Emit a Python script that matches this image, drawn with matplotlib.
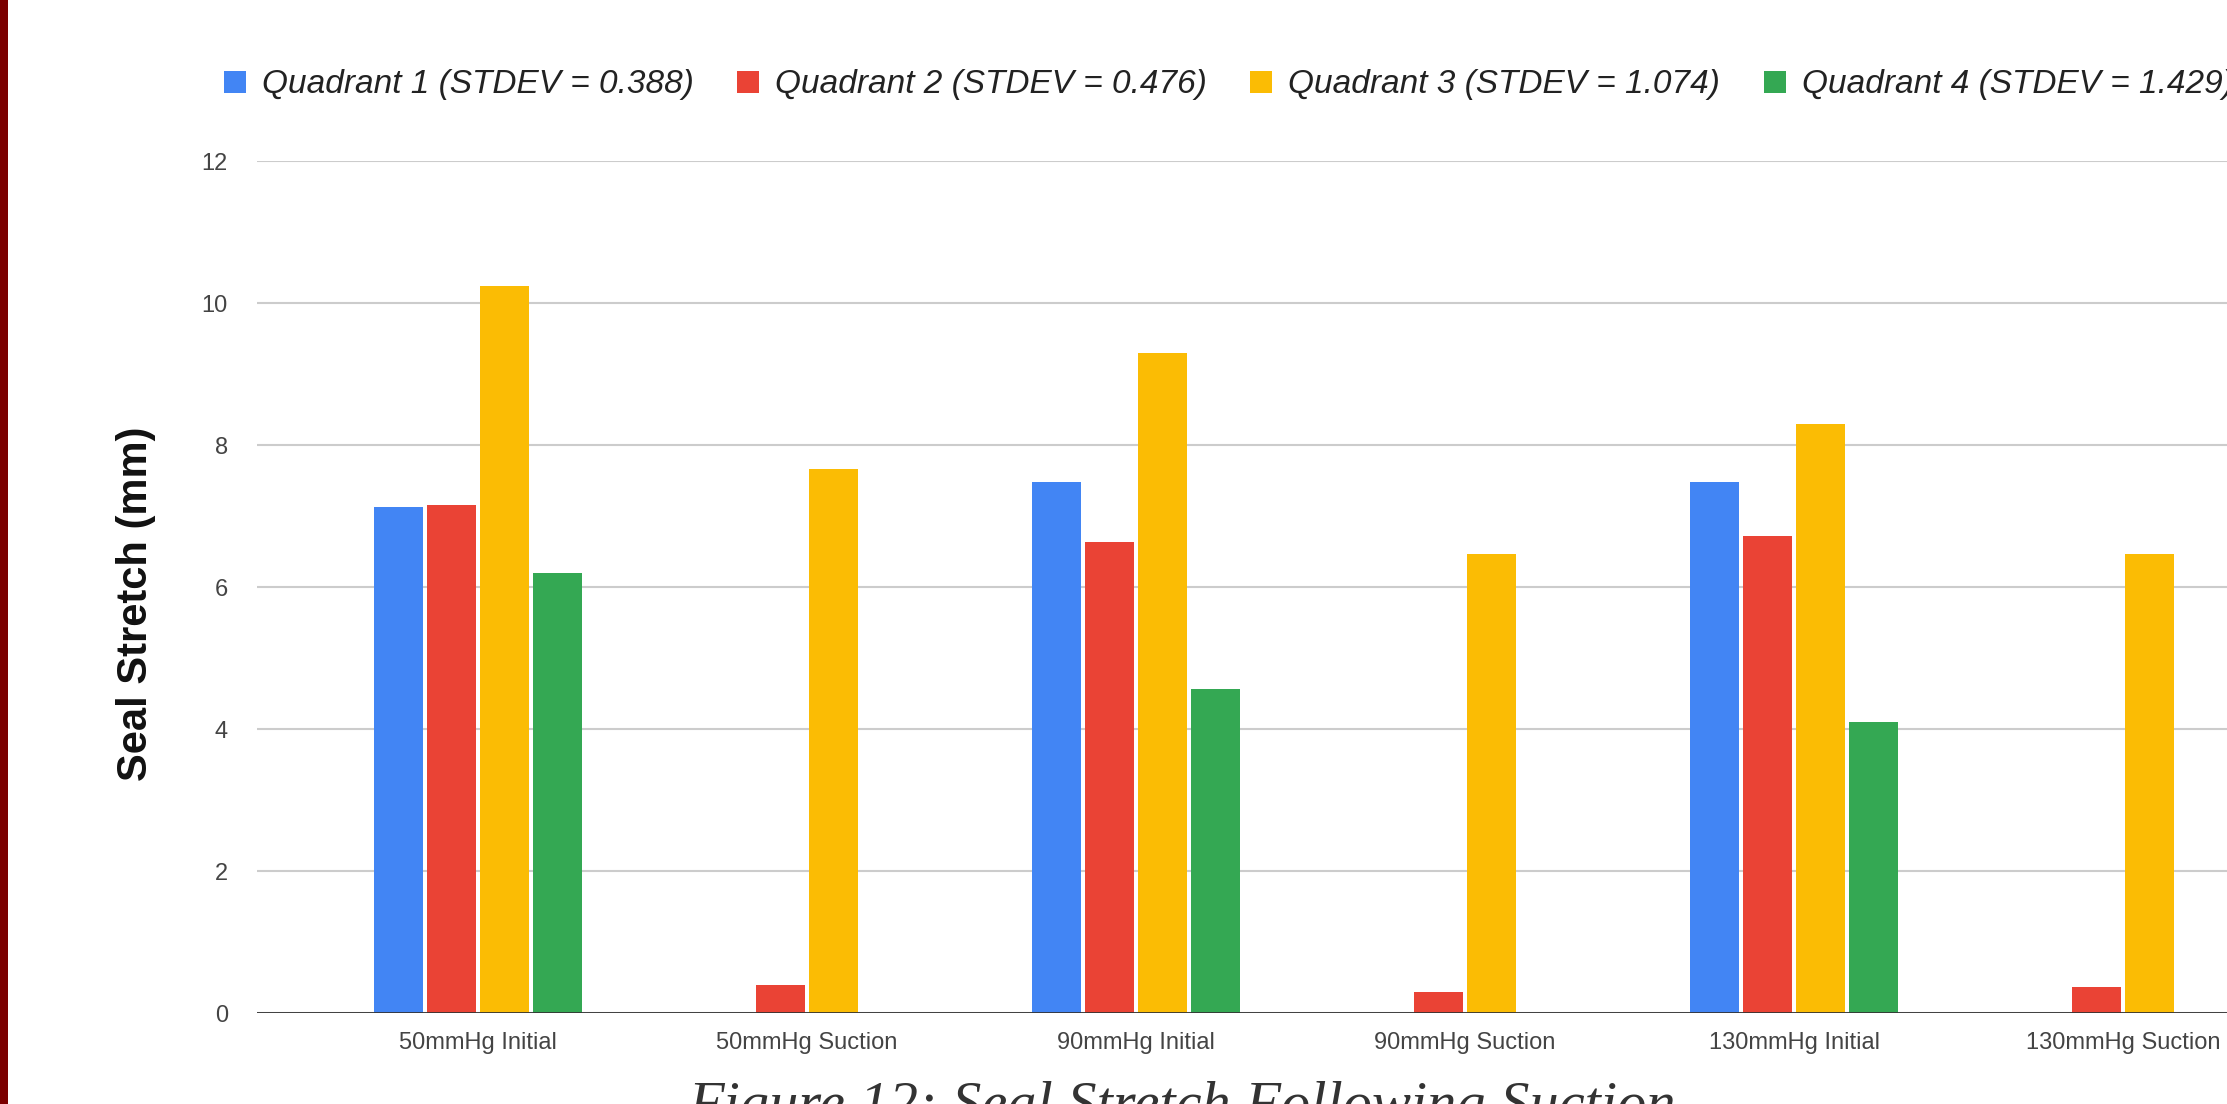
import numpy as np
import matplotlib
matplotlib.use("Agg")
import matplotlib.pyplot as plt
from matplotlib.patches import Rectangle, Patch

# Values
categories = ["50mmHg Initial", "50mmHg Suction", "90mmHg Initial",
              "90mmHg Suction", "130mmHg Initial", "130mmHg Suction"]
quadrant_1 = [7.12, 0, 7.48, 0, 7.48, 0]
quadrant_2 = [7.16, 0.40, 6.64, 0.30, 6.72, 0.36]
quadrant_3 = [10.24, 7.66, 9.30, 6.46, 8.30, 6.46]
quadrant_4 = [6.20, 0, 4.56, 0, 4.10, 0]
series_labels = ["Quadrant 1 (STDEV = 0.388)", "Quadrant 2 (STDEV = 0.476)",
                 "Quadrant 3 (STDEV = 1.074)", "Quadrant 4 (STDEV = 1.429)"]
colors = ["#4285F4", "#EA4335", "#FBBC04", "#34A853"]
y_ticks = [0, 2, 4, 6, 8, 10, 12]

plt.rcParams["font.family"] = ["Liberation Sans", "DejaVu Sans"]

W, H = 2227, 1104
fig = plt.figure(figsize=(W / 100, H / 100), dpi=100)
ax = fig.add_axes([257 / W, 91 / H, 1 - 257 / W, 852 / H])

x = np.arange(len(categories))
pitch = 0.161
width = 0.149
series = [quadrant_1, quadrant_2, quadrant_3, quadrant_4]
for i, (vals, col) in enumerate(zip(series, colors)):
    ax.bar(x + (i - 1.5) * pitch, vals, width, color=col, zorder=3, linewidth=0)

ax.set_xlim(-0.672, 5.316)
ax.set_ylim(0, 12)
ax.set_yticks(y_ticks)
ax.set_xticks(x)
ax.set_xticklabels(categories)
ax.tick_params(axis="both", length=0, labelsize=17, colors="#444444")
ax.tick_params(axis="y", pad=21)
ax.tick_params(axis="x", pad=14)
ax.grid(axis="y", color="#cccccc", linewidth=1.5, zorder=0)
ax.axhline(0, color="#333333", linewidth=2, zorder=4)
for s in ax.spines.values():
    s.set_visible(False)

fig.text(136 / W, 0.453, "Seal Stretch (mm)", rotation=90, fontsize=30,
         fontweight="bold", ha="center", va="center", color="#111111")

handles = [Patch(facecolor=c, edgecolor="none") for c in colors]
fig.legend(handles, series_labels, ncol=4, loc="center left",
           bbox_to_anchor=(224 / W, 1 - 85 / H), frameon=False,
           prop={"style": "italic", "size": 24}, handlelength=0.66,
           handleheight=0.66, handletextpad=0.48, columnspacing=1.3,
           borderpad=0, borderaxespad=0, labelcolor="#222222")

fig.text(1182 / W, -0.0158, "Figure 12: Seal Stretch Following Suction",
         ha="center", va="baseline", fontsize=42, style="italic",
         family=["Liberation Serif", "DejaVu Serif"], color="#333333")

fig.patches.append(Rectangle((0, 0), 8 / W, 1, transform=fig.transFigure,
                             facecolor="#7b0000", edgecolor="none", zorder=10))

fig.savefig("out.png", dpi=100)
